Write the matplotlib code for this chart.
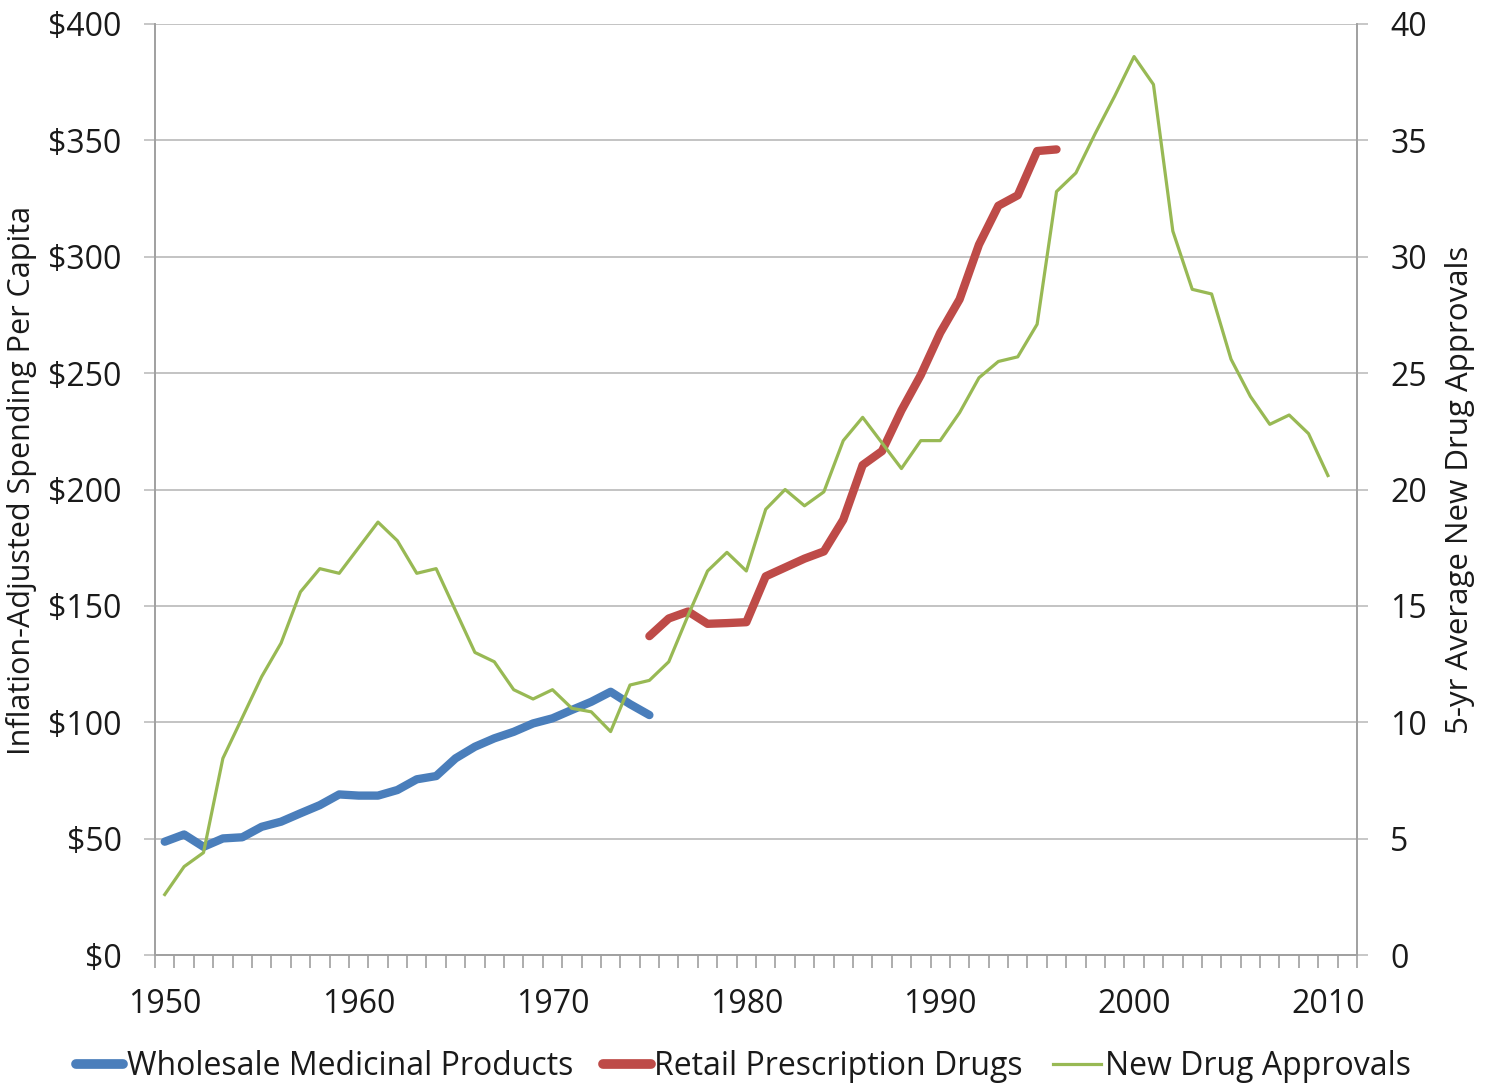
import matplotlib
matplotlib.use('Agg')
import matplotlib.pyplot as plt
from matplotlib.ticker import FuncFormatter, MultipleLocator
from matplotlib.lines import Line2D

plt.rcParams['font.family'] = ['Open Sans', 'DejaVu Sans']

# wholesale medicinal products, $ per capita
wholesale_years = list(range(1950, 1976))
wholesale = [48.7, 51.8, 46.5, 50.1, 50.6, 55.1, 57.3, 60.9, 64.4, 69.0,
             68.5, 68.5, 70.9, 75.5, 76.9, 84.5, 89.5, 93.1, 95.9, 99.5,
             101.7, 105.3, 108.8, 113.1, 107.8, 103.1]

# retail prescription drugs, $ per capita
retail_years = list(range(1975, 1997))
retail = [137.0, 144.6, 147.6, 142.3, 142.6, 143.0, 162.7, 166.5, 170.3, 173.4,
          187.0, 210.5, 216.5, 234.0, 249.2, 267.3, 281.7, 305.2, 321.9, 326.4,
          345.4, 346.1]

# 5-yr average new drug approvals (right axis)
approval_years = list(range(1950, 2011))
approvals = [2.6, 3.8, 4.4, 8.45, 10.2, 11.96, 13.4, 15.6, 16.6, 16.4,
             17.5, 18.6, 17.8, 16.4, 16.6, 14.8, 13.0, 12.6, 11.4, 11.0,
             11.4, 10.6, 10.45, 9.6, 11.6, 11.8, 12.6, 14.6, 16.5, 17.3,
             16.5, 19.15, 20.0, 19.3, 19.9, 22.1, 23.1, 22.0, 20.9, 22.1,
             22.1, 23.3, 24.8, 25.5, 25.7, 27.1, 32.8, 33.6, 35.3, 36.9,
             38.6, 37.4, 31.1, 28.6, 28.4, 25.6, 24.0, 22.8, 23.2, 22.4, 20.6]

labels = ['Wholesale Medicinal Products', 'Retail Prescription Drugs', 'New Drug Approvals']
blue = '#4A7EBB'
red = '#BE4B48'
green = '#98B954'
axis_gray = '#A0A0A0'
grid_gray = '#BEBEBE'
text_col = '#1A1A1A'
fs = 23

fig = plt.figure(figsize=(14.95, 10.89), dpi=100)
ax = fig.add_axes([0.1037, 0.1230, 0.8040, 0.8550])
ax2 = ax.twinx()

ax.plot(wholesale_years, wholesale, color=blue, lw=6, solid_capstyle='round', solid_joinstyle='round')
ax.plot(retail_years, retail, color=red, lw=6, solid_capstyle='round', solid_joinstyle='round')
ax2.plot(approval_years, approvals, color=green, lw=2.3, solid_joinstyle='round')

ax.set_xlim(1949.5, 2011.5)
ax.set_ylim(0, 400)
ax2.set_ylim(0, 40)

ax.yaxis.set_major_locator(MultipleLocator(50))
ax.yaxis.set_major_formatter(FuncFormatter(lambda v, p: '${:.0f}'.format(v)))
ax2.yaxis.set_major_locator(MultipleLocator(5))

ax.set_xticks(list(range(1950, 2011, 10)))
ax.set_xticks([y + 0.5 for y in range(1949, 2012)], minor=True)
ax.tick_params(axis='x', which='major', length=0, pad=24, labelsize=fs, labelcolor=text_col)
ax.tick_params(axis='x', which='minor', length=9, width=1.2, color=axis_gray)
ax.tick_params(axis='y', length=8, width=1.2, color=grid_gray, labelsize=fs, pad=16, labelcolor=text_col)
ax2.tick_params(axis='y', length=8, width=1.2, color=grid_gray, labelsize=fs, pad=16, labelcolor=text_col)

ax.grid(axis='y', color=grid_gray, lw=1.3)
ax.set_axisbelow(True)
for a in (ax, ax2):
    a.spines['top'].set_visible(False)
    for s in ('left', 'right', 'bottom'):
        a.spines[s].set_color(axis_gray)
        a.spines[s].set_linewidth(1.2)

ax.set_ylabel('Inflation-Adjusted Spending Per Capita', fontsize=22, color=text_col, va='center')
ax.yaxis.set_label_coords(-0.111, 0.51)
ax2.set_ylabel('5-yr Average New Drug Approvals', fontsize=22.5, color=text_col, va='center')
ax2.yaxis.set_label_coords(1.086, 0.5)

handles = [Line2D([], [], color=blue, lw=7, solid_capstyle='round'),
           Line2D([], [], color=red, lw=7, solid_capstyle='round'),
           Line2D([], [], color=green, lw=2.3)]
leg = fig.legend(handles, labels, loc='lower center', bbox_to_anchor=(0.497, -0.021), ncol=3,
                 frameon=False, fontsize=fs, handlelength=1.5, handletextpad=0.1, columnspacing=0.95)
for t in leg.get_texts():
    t.set_color(text_col)

fig.savefig('out.png', dpi=100)
